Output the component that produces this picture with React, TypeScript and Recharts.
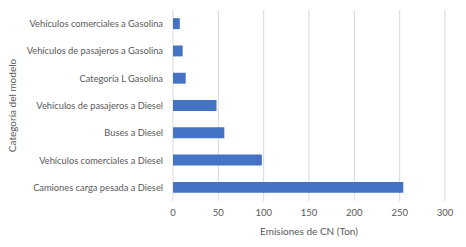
import React from "react";
import { BarChart, Bar, XAxis, YAxis, CartesianGrid, Label } from "recharts";

const categories = [
  "Vehículos comerciales a Gasolina",
  "Vehículos de pasajeros a Gasolina",
  "Categoría L Gasolina",
  "Vehículos de pasajeros a Diesel",
  "Buses a Diesel",
  "Vehículos comerciales a Diesel",
  "Camiones carga pesada a Diesel",
];
const emisiones = [7.5, 10.7, 14, 48, 56.6, 98, 254];
const xTicks = [0, 50, 100, 150, 200, 250, 300];

const data = categories.map((c, i) => ({ categoria: c, valor: emisiones[i] }));

const font = "Lato, 'Open Sans', sans-serif";
const textColor = "#595959";

const CategoryTick = ({ x, y, payload }: any) => (
  <text
    x={x - 2}
    y={y}
    dy={3.5}
    textAnchor="end"
    fill={textColor}
    fontSize={9.3}
    fontFamily={font}
  >
    {payload.value}
  </text>
);

export default function App() {
  return (
    <div style={{ width: 466, height: 247, background: "#fff", fontFamily: font }}>
      <style>{`body{margin:0}`}</style>
      <BarChart
        width={466}
        height={247}
        data={data}
        layout="vertical"
        margin={{ top: 10, right: 21, bottom: 16, left: 14 }}
        barCategoryGap="70%"
      >
        <CartesianGrid horizontal={false} stroke="#d9d9d9" />
        <XAxis
          type="number"
          domain={[0, 300]}
          ticks={xTicks}
          axisLine={false}
          tickLine={false}
          tick={{ fill: textColor, fontSize: 9.5, fontFamily: font }}
          tickMargin={2}
        >
          <Label
            value="Emisiones de CN (Ton)"
            position="insideBottom"
            offset={-4}
            style={{ fill: textColor, fontSize: 10, fontFamily: font }}
          />
        </XAxis>
        <YAxis
          type="category"
          dataKey="categoria"
          width={159}
          axisLine={false}
          tickLine={false}
          interval={0}
          tick={<CategoryTick />}
        >
          <Label
            value="Categoría del modelo"
            angle={-90}
            position="insideLeft"
            offset={-2}
            style={{ fill: textColor, fontSize: 10, fontFamily: font, textAnchor: "middle" }}
          />
        </YAxis>
        <Bar dataKey="valor" fill="#4472c4" isAnimationActive={false} />
      </BarChart>
    </div>
  );
}
